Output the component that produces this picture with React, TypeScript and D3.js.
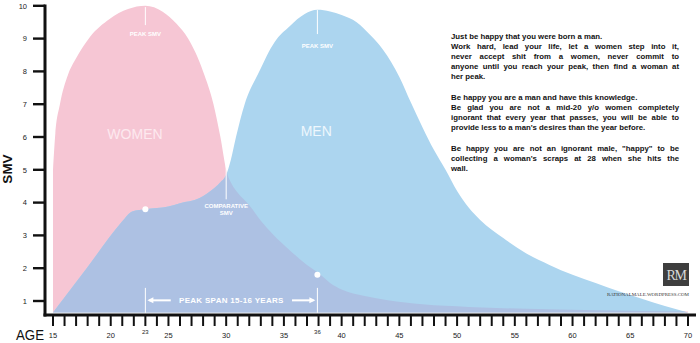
import React, { useLayoutEffect, useRef } from "react";
import * as d3 from "d3";

const womenAge = [15, 15.2, 15.6, 16.3, 17, 18.2, 19.9, 21.5, 23, 24.5, 25.7, 26.7, 28, 28.9, 29.5, 30, 30.5, 31, 32, 33, 34, 35.5, 37, 38, 39, 40, 42, 44, 47, 51, 56, 62, 70];
const womenSmv = [5.0, 6.1, 7.0, 7.9, 8.4, 9.05, 9.6, 9.9, 10, 9.82, 9.45, 9.0, 8.0, 7.0, 6.0, 5.0, 4.55, 4.3, 3.92, 3.45, 3.05, 2.55, 2.1, 1.85, 1.55, 1.35, 1.15, 1.02, 0.9, 0.82, 0.76, 0.72, 0.68];

const menAge = [15, 18, 21, 21.7, 22.3, 23, 25, 26, 27.7, 29, 29.5, 30, 30.4, 30.85, 31.6, 32.8, 34.2, 35.5, 36.8, 37.9, 39, 40, 41.3, 42.5, 43.6, 45, 46, 47, 48, 49, 50, 51, 52, 54, 56, 58, 60, 62, 64, 66, 68, 70];
const menSmv = [0.65, 2.04, 3.43, 3.7, 3.77, 3.8, 3.88, 3.98, 4.14, 4.45, 4.62, 4.85, 5.3, 6.0, 7.0, 7.95, 8.9, 9.38, 9.75, 9.88, 9.83, 9.72, 9.5, 9.1, 8.65, 7.83, 7.05, 6.3, 5.6, 5.0, 4.35, 3.85, 3.47, 2.92, 2.45, 2.1, 1.8, 1.55, 1.3, 1.07, 0.85, 0.65];

const baselineSmv = 0.65;
const yTicks = [1, 2, 3, 4, 5, 6, 7, 8, 9, 10];
const xLabelTicks = [15, 20, 25, 30, 35, 40, 45, 50, 55, 60, 65, 70];
const xMinorTicks = d3.range(15, 71, 1);
const peakAges = [23, 37.9];
const peakAgeLabels = ["23", "36"];
const peakSmv = [9.96, 9.87];
const comparativeSmv = [3.8, 1.8];
const comparativeAge = 30;

const noteLines: { t: string; j: boolean }[] = [
  { t: "Just be happy that you were born a man.", j: false },
  { t: "Work hard, lead your life, let a women step into it,", j: true },
  { t: "never accept shit from a women, never commit to", j: true },
  { t: "anyone until you reach your peak, then find a woman at", j: true },
  { t: "her peak.", j: false },
  { t: "", j: false },
  { t: "Be happy you are a man and have this knowledge.", j: false },
  { t: "Be glad you are not a mid-20 y/o women completely", j: true },
  { t: "ignorant that every year that passes, you will be able to", j: true },
  { t: "provide less to a man's desires than the year before.", j: false },
  { t: "", j: false },
  { t: "Be happy you are not an ignorant male, \"happy\" to be", j: true },
  { t: "collecting a woman's scraps at 28 when she hits the", j: true },
  { t: "wall.", j: false },
];

const PINK = "#f6c6d4";
const BLUE = "#acd5ef";
const PURPLE = "#adc1e3";
const SANS = "'Liberation Sans', Arial, Helvetica, sans-serif";
const SERIF = "'Liberation Serif', 'DejaVu Serif', serif";

export default function App() {
  const W = 700, H = 343;
  const x = d3.scaleLinear().domain([15, 70]).range([53, 688]);
  const y = d3.scaleLinear().domain([0, 10]).range([333.8, 5.8]);

  const women = womenAge.map((a, i) => [a, womenSmv[i]] as [number, number]);
  const men = menAge.map((a, i) => [a, menSmv[i]] as [number, number]);

  const area = d3
    .area<[number, number]>()
    .x((d) => x(d[0]))
    .y0(y(baselineSmv))
    .y1((d) => y(d[1]))
    .curve(d3.curveMonotoneX);

  const womenPath = area(women) || "";
  const menPath = area(men) || "";

  const textRef = useRef<SVGGElement>(null);
  const textX = 451;
  const textW = 228;
  const textY0 = 38.6;
  const lineH = 10.2;

  useLayoutEffect(() => {
    const g = textRef.current;
    if (!g) return;
    const nodes = g.querySelectorAll("text");
    nodes.forEach((node) => {
      const el = node as SVGTextElement;
      if (el.getAttribute("data-j") !== "1") return;
      el.style.wordSpacing = "0px";
      const len = el.getComputedTextLength();
      const txt = el.textContent || "";
      const spaces = (txt.match(/ /g) || []).length;
      if (spaces > 0) {
        el.style.wordSpacing = `${(textW - len) / spaces}px`;
      }
    });
  }, []);

  const axisY = 315;
  const axisX = 45;

  return (
    <svg
      width={W}
      height={H}
      viewBox={`0 0 ${W} ${H}`}
      style={{ position: "absolute", left: 0, top: 0, background: "#fff" }}
    >
      <defs>
        <clipPath id="womenClip">
          <path d={womenPath} />
        </clipPath>
      </defs>

      {/* areas */}
      <path d={womenPath} fill={PINK} />
      <path d={menPath} fill={BLUE} />
      <path d={menPath} fill={PURPLE} clipPath="url(#womenClip)" />

      {/* in-area labels */}
      <text x={x(22.1)} y={y(5.95)} fill="#fde9ef" fontFamily={SANS} fontSize={14} textAnchor="middle">
        WOMEN
      </text>
      <text x={x(37.8)} y={y(6.03)} fill="#eef7fd" fontFamily={SANS} fontSize={14} textAnchor="middle">
        MEN
      </text>

      {/* peak SMV markers */}
      {peakAges.map((a, i) => (
        <g key={`pk${i}`}>
          <line x1={x(a)} x2={x(a)} y1={y(peakSmv[i])} y2={y(peakSmv[i]) + (i === 0 ? 18 : 24)} stroke="#fff" strokeWidth={1} />
          <text x={x(a)} y={y(peakSmv[i]) + (i === 0 ? 29 : 38)} fill="#fff" fontFamily={SANS} fontSize={6} fontWeight="bold" textAnchor="middle">
            PEAK SMV
          </text>
        </g>
      ))}

      {/* comparative SMV */}
      <line x1={x(comparativeAge)} x2={x(comparativeAge)} y1={y(5.3)} y2={y(4.1)} stroke="#fff" strokeWidth={1} />
      <text x={x(comparativeAge)} y={y(3.85)} fill="#fff" fontFamily={SANS} fontSize={6} fontWeight="bold" textAnchor="middle">
        COMPARATIVE
      </text>
      <text x={x(comparativeAge)} y={y(3.62)} fill="#fff" fontFamily={SANS} fontSize={6} fontWeight="bold" textAnchor="middle">
        SMV
      </text>
      {peakAges.map((a, i) => (
        <circle key={`dot${i}`} cx={x(a)} cy={y(comparativeSmv[i])} r={3} fill="#fff" />
      ))}

      {/* peak span */}
      {peakAges.map((a, i) => (
        <line key={`ps${i}`} x1={x(a)} x2={x(a)} y1={y(1.4)} y2={y(0.64)} stroke="#fff" strokeWidth={1} />
      ))}
      <g stroke="#fff" fill="#fff">
        <line x1={x(23) + 4} x2={x(25.2)} y1={y(1.02)} y2={y(1.02)} strokeWidth={2} />
        <path d={`M${x(23) + 2},${y(1.02)} l6,-3 l0,6 z`} stroke="none" />
        <line x1={x(35.7)} x2={x(37.9) - 4} y1={y(1.02)} y2={y(1.02)} strokeWidth={2} />
        <path d={`M${x(37.9) - 2},${y(1.02)} l-6,-3 l0,6 z`} stroke="none" />
      </g>
      <text
        x={(x(23) + x(37.9)) / 2}
        y={y(1.02) + 2.9}
        fill="#fff"
        fontFamily={SANS}
        fontSize={8}
        fontWeight="bold"
        textAnchor="middle"
        letterSpacing={0.3}
      >
        PEAK SPAN 15-16 YEARS
      </text>

      {/* axes */}
      <line x1={axisX} x2={axisX} y1={4.5} y2={axisY + 1.5} stroke="#111" strokeWidth={3} />
      <line x1={axisX - 1.5} x2={696} y1={axisY} y2={axisY} stroke="#111" strokeWidth={3} />
      {yTicks.map((t) => (
        <g key={`yt${t}`}>
          <line x1={33} x2={axisX} y1={y(t)} y2={y(t)} stroke="#111" strokeWidth={2.4} />
          <text x={27} y={y(t) + 2.8} fontFamily={SANS} fontSize={7.5} textAnchor="end" fill="#222">
            {t}
          </text>
        </g>
      ))}
      {xMinorTicks.map((t) => (
        <line key={`xt${t}`} x1={x(t)} x2={x(t)} y1={axisY} y2={326} stroke="#111" strokeWidth={2} />
      ))}
      {xLabelTicks.map((t) => (
        <text key={`xl${t}`} x={x(t)} y={337.5} fontFamily={SANS} fontSize={7.5} textAnchor="middle" fill="#222">
          {t}
        </text>
      ))}
      {peakAges.map((a, i) => (
        <text key={`pl${i}`} x={x(a)} y={334} fontFamily={SANS} fontSize={6} textAnchor="middle" fill="#222">
          {peakAgeLabels[i]}
        </text>
      ))}
      <text x={16} y={340} fontFamily={SANS} fontSize={15} fill="#111" textLength={28} lengthAdjust="spacingAndGlyphs">
        AGE
      </text>
      <text
        transform={`translate(12,169) rotate(-90)`}
        fontFamily={SANS}
        fontSize={13.5}
        fontWeight="bold"
        fill="#111"
        textAnchor="middle"
      >
        SMV
      </text>

      {/* commentary */}
      <g ref={textRef}>
        {noteLines.map((l, i) =>
          l.t ? (
            <text
              key={`n${i}`}
              data-j={l.j ? "1" : "0"}
              x={textX}
              y={textY0 + i * lineH}
              fontFamily={SANS}
              fontSize={7.8}
              fontWeight="bold"
              fill="#111"
              style={{ whiteSpace: "pre" }}
            >
              {l.t}
            </text>
          ) : null
        )}
      </g>

      {/* logo */}
      <rect x={663} y={263} width={26} height={23} fill="#3e3e3e" />
      <text x={676} y={280} fontFamily={SERIF} fontSize={14} fill="#d9d9d9" textAnchor="middle" letterSpacing={-1.5}>
        RM
      </text>
      <text x={648} y={295.5} fontFamily={SERIF} fontSize={4.6} fill="#333" textAnchor="middle" textLength={82} lengthAdjust="spacingAndGlyphs">
        RATIONALMALE.WORDPRESS.COM
      </text>
    </svg>
  );
}
